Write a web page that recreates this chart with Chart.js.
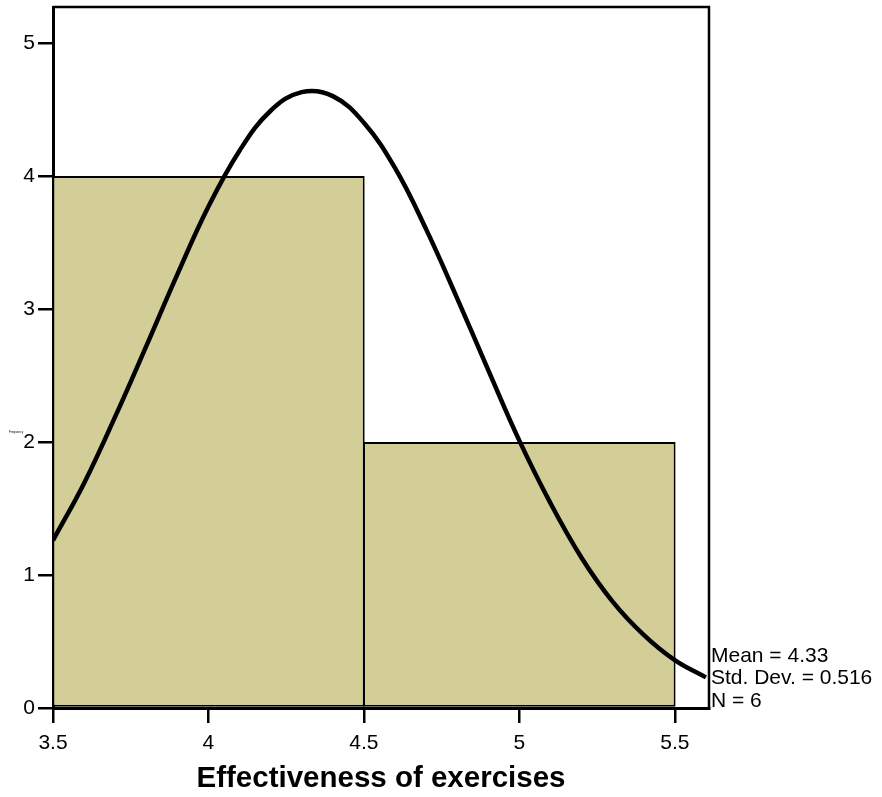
<!DOCTYPE html>
<html>
<head>
<meta charset="utf-8">
<script src="https://cdn.jsdelivr.net/npm/chart.js@4.4.0/dist/chart.umd.min.js"></script>
<style>
  html, body { margin: 0; padding: 0; background: #fff; }
  #wrap { width: 882px; height: 797px; }
</style>
</head>
<body>
<div id="wrap"><canvas id="histChart" width="882" height="797"></canvas></div>
<script>
// histogram bins (bin centre) and counts
var binCenters = [4, 5];
var binCounts = [4, 2];

// normal curve
var curveX = [3.5, 3.6, 3.7, 3.8, 3.9, 4.0, 4.1, 4.2, 4.3, 4.4, 4.5, 4.6, 4.7, 4.8, 4.9, 5.0, 5.1, 5.2, 5.3, 5.4, 5.5, 5.6];
var curveY = [1.26, 1.69, 2.19, 2.72, 3.26, 3.77, 4.19, 4.49, 4.63, 4.60, 4.40, 4.06, 3.60, 3.08, 2.54, 2.01, 1.54, 1.13, 0.80, 0.55, 0.36, 0.23];

var xTicks = [3.5, 4, 4.5, 5, 5.5];
var xTickLabels = ['3.5', '4', '4.5', '5', '5.5'];
var yTicks = [0, 1, 2, 3, 4, 5];
var yTickLabels = ['0', '1', '2', '3', '4', '5'];

var statsLines = ['Mean = 4.33', 'Std. Dev. = 0.516', 'N = 6'];
var xTitle = 'Effectiveness of exercises';
var yTitle = 'Frequency';

var fontFamily = '"Liberation Sans", Arial, sans-serif';

var barData = binCenters.map(function (c, i) { return { x: c, y: binCounts[i] }; });
var curveData = curveX.map(function (x, i) { return { x: x, y: curveY[i] }; });

// frame on top/right, stats text and the tiny y title
var extrasPlugin = {
    id: 'extras',
    afterDraw: function (chart) {
        var c = chart.ctx;
        var a = chart.chartArea;
        c.save();
        c.strokeStyle = '#000';
        c.lineWidth = 2.5;
        c.beginPath();
        c.moveTo(a.left, a.top);
        c.lineTo(a.right, a.top);
        c.lineTo(a.right, a.bottom);
        c.stroke();

        c.fillStyle = '#000';
        c.font = '21px ' + fontFamily;
        c.textAlign = 'left';
        c.textBaseline = 'middle';
        var y0 = a.bottom - 52;
        for (var i = 0; i < statsLines.length; i++) {
            c.fillText(statsLines[i], a.right + 2, y0 + i * 22.5);
        }

        c.font = '3px ' + fontFamily;
        c.fillText(yTitle, 9, 432);
        c.restore();
    }
};

function noEdgePadding(scale) {
    scale.paddingTop = 0;
    scale.paddingBottom = 0;
    scale.paddingLeft = 0;
    scale.paddingRight = 0;
}

var histChart = new Chart(document.getElementById('histChart').getContext('2d'), {
    type: 'bar',
    data: {
        datasets: [{
            type: 'line',
            data: curveData,
            borderColor: '#000',
            borderWidth: 4.5,
            pointRadius: 0,
            tension: 0.4,
            fill: false,
            order: 0
        }, {
            type: 'bar',
            data: barData,
            backgroundColor: 'rgb(211, 206, 152)',
            borderColor: '#000',
            borderWidth: 2,
            borderSkipped: false,
            barPercentage: 2.01,
            categoryPercentage: 1,
            order: 1
        }]
    },
    options: {
        responsive: false,
        animation: false,
        layout: {
            padding: { left: 0, right: 173, top: 7, bottom: 0 }
        },
        plugins: {
            legend: { display: false },
            tooltip: { enabled: false }
        },
        scales: {
            x: {
                type: 'linear',
                offset: false,
                min: 3.5,
                max: 5.61,
                afterBuildTicks: function (scale) {
                    scale.ticks = xTicks.map(function (v) { return { value: v }; });
                },
                afterFit: function (scale) { scale.height = 89; noEdgePadding(scale); },
                ticks: {
                    includeBounds: false,
                    padding: 8,
                    color: '#000',
                    font: { size: 21, family: fontFamily },
                    callback: function (v) {
                        var i = xTicks.indexOf(v);
                        return i >= 0 ? xTickLabels[i] : '';
                    }
                },
                grid: {
                    offset: false,
                    drawOnChartArea: false,
                    drawTicks: true,
                    tickLength: 15,
                    color: '#000',
                    lineWidth: 2.5
                },
                border: { color: '#000', width: 3 },
                title: {
                    display: true,
                    text: xTitle,
                    color: '#000',
                    font: { size: 29.5, weight: 'bold', family: fontFamily },
                    padding: { top: 0, bottom: 0 }
                }
            },
            y: {
                type: 'linear',
                min: 0,
                max: 5.27,
                afterBuildTicks: function (scale) {
                    scale.ticks = yTicks.map(function (v) { return { value: v }; });
                },
                afterFit: function (scale) { scale.width = 53; noEdgePadding(scale); },
                ticks: {
                    includeBounds: false,
                    padding: 3,
                    color: '#000',
                    font: { size: 21, family: fontFamily },
                    callback: function (v) {
                        var i = yTicks.indexOf(v);
                        return i >= 0 ? yTickLabels[i] : '';
                    }
                },
                grid: {
                    drawOnChartArea: false,
                    drawTicks: true,
                    tickLength: 15,
                    color: '#000',
                    lineWidth: 2.5
                },
                border: { color: '#000', width: 3 }
            }
        }
    },
    plugins: [extrasPlugin]
});
</script>
</body>
</html>
